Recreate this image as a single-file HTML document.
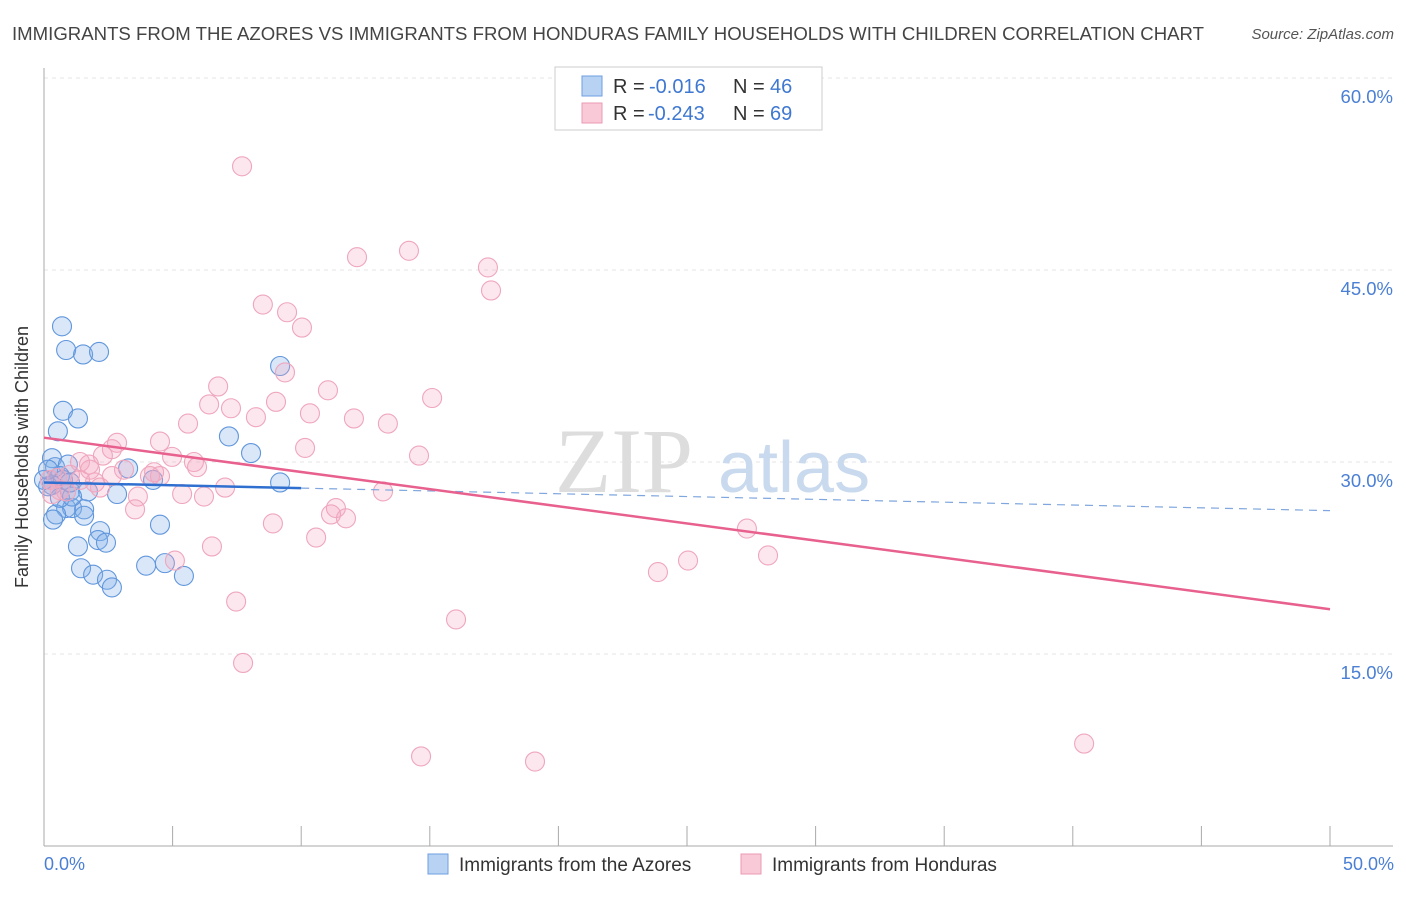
<!DOCTYPE html>
<html><head><meta charset="utf-8"><style>
body{margin:0;background:#fff;font-family:"Liberation Sans",sans-serif;}
</style></head><body>
<svg width="1406" height="892" xmlns="http://www.w3.org/2000/svg">
<text x="12" y="40" font-size="18" fill="#444" textLength="1192" lengthAdjust="spacingAndGlyphs">IMMIGRANTS FROM THE AZORES VS IMMIGRANTS FROM HONDURAS FAMILY HOUSEHOLDS WITH CHILDREN CORRELATION CHART</text>
<text x="1394" y="39" font-size="15" fill="#555" font-style="italic" text-anchor="end">Source: ZipAtlas.com</text>
<g id="grid"></g>
<text x="555" y="492" font-size="92" fill="#ddd" font-family="Liberation Serif">ZIP</text>
<text x="718" y="492" font-size="72" fill="#c9d9ee">atlas</text>
<g id="axes"></g>
<g id="pts"></g>
<g id="lines"></g>
<text x="28" y="457" font-size="18" fill="#333" text-anchor="middle" transform="rotate(-90 28 457)">Family Households with Children</text>
<text x="44" y="870" font-size="18" fill="#4a7fd4">0.0%</text>
<text x="1394" y="870" font-size="18" fill="#4a7fd4" text-anchor="end">50.0%</text>
<g>
<rect x="555" y="67" width="267" height="63" fill="#fff" stroke="#ccc"/>
<rect x="582" y="76" width="20" height="20" fill="#b8d2f3" stroke="#6e9fe0"/>
<rect x="582" y="103" width="20" height="20" fill="#f9c9d8" stroke="#ec9ab4"/>
<text x="613" y="93" font-size="20" fill="#333">R =</text>
<text x="649" y="93" font-size="20" fill="#3f78d1">-0.016</text>
<text x="733" y="93" font-size="20" fill="#333">N =</text>
<text x="770" y="93" font-size="20" fill="#3f78d1">46</text>
<text x="613" y="120" font-size="20" fill="#333">R =</text>
<text x="648" y="120" font-size="20" fill="#3f78d1">-0.243</text>
<text x="733" y="120" font-size="20" fill="#333">N =</text>
<text x="770" y="120" font-size="20" fill="#3f78d1">69</text>
</g>
<g>
<rect x="428" y="854" width="20" height="20" fill="#b8d2f3" stroke="#6e9fe0"/>
<text x="459" y="871" font-size="19" fill="#333">Immigrants from the Azores</text>
<rect x="741" y="854" width="20" height="20" fill="#f9c9d8" stroke="#ec9ab4"/>
<text x="772" y="871" font-size="19" fill="#333">Immigrants from Honduras</text>
</g>
</svg>
<script>
const yTicks=[15,30,45,60];
const blueX=[0.70,0.86,1.52,2.14,9.18,0.74,1.32,0.54,7.19,8.05,0.31,0.43,0.93,0.62,0.74,0.31,1.01,1.71,2.84,3.27,4.24,9.18,0.86,1.09,1.56,0.47,1.56,0.35,4.51,2.18,2.10,2.41,1.32,1.44,1.91,2.45,2.64,3.97,4.70,5.44,0.16,0.0,0.62,1.09,0.16,1.01];
const blueY=[40.6,38.75,38.4,38.6,37.5,34.0,33.4,32.4,32.0,30.7,30.3,29.6,29.8,28.9,28.6,28.2,27.7,27.7,27.5,29.5,28.6,28.4,26.4,26.4,26.3,25.9,25.8,25.5,25.1,24.6,23.9,23.7,23.4,21.7,21.2,20.8,20.2,21.9,22.1,21.1,28.1,28.6,27.2,27.3,29.4,28.4];
const pinkX=[7.70,14.19,12.17,17.26,17.38,8.51,9.45,10.03,9.37,6.77,11.04,15.09,6.42,7.27,9.02,8.24,10.34,5.60,12.05,13.37,4.51,2.84,2.64,2.29,4.98,10.15,14.58,1.40,1.75,3.11,4.28,5.83,5.95,4.12,1.40,1.98,2.18,7.04,3.65,5.37,6.22,13.18,0.62,0.31,0.86,11.35,3.54,11.16,11.74,8.90,10.58,6.53,27.33,28.15,25.04,23.87,5.09,7.47,16.02,7.74,14.66,19.09,40.44,1.79,0.51,1.01,4.51,0.23,2.64];
const pinkY=[53.1,46.5,46.0,45.2,43.4,42.3,41.7,40.5,37.0,35.9,35.6,35.0,34.5,34.2,34.7,33.5,33.8,33.0,33.4,33.0,31.6,31.5,31.0,30.5,30.4,31.1,30.5,30.0,29.8,29.4,29.2,30.0,29.6,28.9,28.6,28.4,28.0,28.0,27.3,27.5,27.3,27.7,27.8,27.5,27.7,26.4,26.3,25.9,25.6,25.2,24.1,23.4,24.8,22.7,22.3,21.4,22.3,19.1,17.7,14.3,7.0,6.6,8.0,29.4,28.75,29.0,28.9,28.6,28.9];
const blueTrend=[28.4,26.2];
const pinkTrend=[31.9,18.5];
const NS='http://www.w3.org/2000/svg';
const X=v=>44+v*25.72, Y=v=>846-v*12.8;
function mk(t,a,p){const e=document.createElementNS(NS,t);for(const k in a)e.setAttribute(k,a[k]);p.appendChild(e);return e;}
const grid=document.getElementById('grid');
yTicks.forEach(t=>{
 const l=mk('line',{x1:44,x2:1393,y1:Y(t),y2:Y(t),stroke:'#e4e4e4','stroke-dasharray':'4,4'},grid);
 
 
 const tx=mk('text',{x:1393,y:Y(t)+25,'font-size':18.5,fill:'#4a7fd4','text-anchor':'end'},grid);
 tx.textContent=t.toFixed(1)+'%';
 
 
});
const ax=document.getElementById('axes');
let a1=mk('line',{x1:44,x2:44,y1:68,y2:846,stroke:'#aaa'},ax);


let a2=mk('line',{x1:44,x2:1393,y1:846,y2:846,stroke:'#aaa'},ax);


for(let i=0;i<=10;i++){const t=mk('line',{x1:X(i*5),x2:X(i*5),y1:826,y2:846,stroke:'#aaa'},ax);
 
 }
const pts=document.getElementById('pts');
blueX.forEach((x,i)=>{const c=mk('circle',{cx:X(x),cy:Y(blueY[i]),r:9.5,fill:'rgba(130,175,232,0.3)',stroke:'#6096dc','stroke-width':1.1},pts);
 
 });
pinkX.forEach((x,i)=>{const c=mk('circle',{cx:X(x),cy:Y(pinkY[i]),r:9.5,fill:'rgba(244,168,194,0.27)',stroke:'#efa6bd','stroke-width':1.1},pts);
 
 });
const ln=document.getElementById('lines');
const bAt=x=>blueTrend[0]+(blueTrend[1]-blueTrend[0])*x/50;
let l1=mk('line',{x1:X(0),y1:Y(bAt(0)),x2:X(10),y2:Y(bAt(10)),stroke:'#2f6fd0','stroke-width':2.5},ln);


let l2=mk('line',{x1:X(10),y1:Y(bAt(10)),x2:X(50),y2:Y(bAt(50)),stroke:'#7fa6de','stroke-width':1.2,'stroke-dasharray':'8,6'},ln);


let l3=mk('line',{x1:X(0),y1:Y(pinkTrend[0]),x2:X(50),y2:Y(pinkTrend[1]),stroke:'#e8608e','stroke-width':2.5},ln);


</script>
</body></html>
